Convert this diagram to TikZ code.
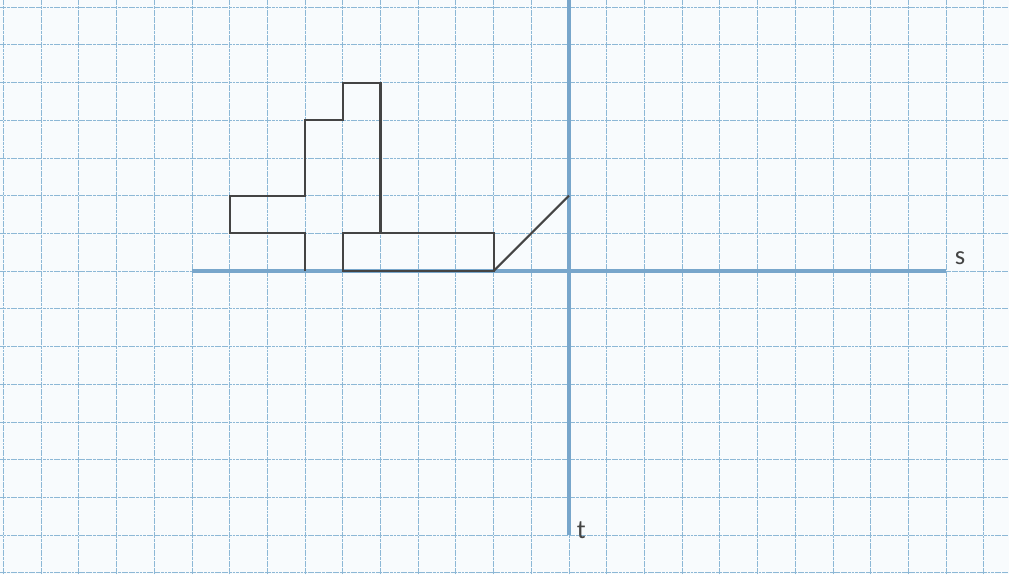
\documentclass[tikz,border=0pt]{standalone}
\usepackage{fontspec}
\setmainfont{Carlito}
\definecolor{paper}{HTML}{F8FBFD}
\definecolor{gridc}{HTML}{8DB8D6}
\definecolor{axisc}{HTML}{78A6CB}
\definecolor{inkc}{HTML}{444444}
\tikzset{
  gridline/.style={gridc, line width=0.6pt, dash pattern=on 2.2pt off 0.5pt},
  axisline/.style={axisc, line width=2.8pt},
  figline/.style={inkc, line width=1.6pt, line join=miter},
  axislabel/.style={inner sep=0pt, text=inkc, font=\fontsize{20}{24}\selectfont}
}
\begin{document}
\begin{tikzpicture}
\useasboundingbox (-15.09,-8.04) rectangle (11.67,7.19);
\fill[paper] (-15.09,-8.04) rectangle (11.67,7.19);
% grid
\foreach \x in {-15,...,11} \draw[gridline] (\x,-8.04) -- (\x,7.19);
\foreach \y in {-8,...,7} \draw[gridline] (-15.09,\y) -- (11.67,\y);
% axes
\coordinate (sl) at (-10,0);
\coordinate (sr) at (10,0);
\coordinate (tt) at (0,7.19);
\coordinate (tb) at (0,-7);
\draw[axisline] (sl) -- (sr);
\draw[axisline] (tt) -- (tb);
\node[axislabel] (s) at (10.37,0.33) {s};
\node[axislabel] (t) at (0.33,-6.87) {t};
% figure
\draw[figline] (-7,0) -- (-7,1) -- (-9,1) -- (-9,2) -- (-7,2) -- (-7,4) -- (-6,4) -- (-6,5) -- (-5,5) -- (-5,1);
\draw[figline] (-6,0) rectangle (-2,1);
\coordinate (d1) at (-2,0);
\coordinate (d2) at (0,2);
\draw[figline] (d1) -- (d2);
\end{tikzpicture}
\end{document}
